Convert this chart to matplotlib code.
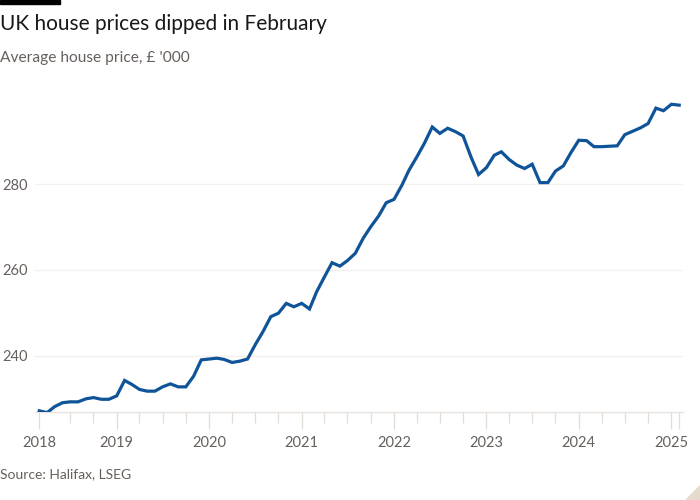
import numpy as np
import pandas as pd
import matplotlib
matplotlib.use("Agg")
import matplotlib.pyplot as plt
import matplotlib.dates as mdates
from matplotlib.patches import Polygon, Rectangle

# Halifax average house price, £'000, monthly Mar 2018 - Feb 2025
start_month = "2018-03"
prices = [
    227.1, 226.7, 228.1, 229.0, 229.2, 229.2, 229.9, 230.2, 229.8, 229.8,
    230.6, 234.2, 233.3, 232.1, 231.7, 231.7, 232.7, 233.4, 232.7, 232.7, 235.2, 239.0,
    239.2, 239.4, 239.1, 238.4, 238.7, 239.2, 242.5, 245.6, 249.1, 249.9, 252.2, 251.4,
    252.2, 250.9, 254.9, 258.4, 261.7, 260.9, 262.2, 263.9, 267.4, 270.1, 272.6, 275.7,
    276.5, 279.8, 283.3, 286.4, 289.6, 293.4, 291.9, 293.1, 292.3, 291.3, 286.4, 282.3,
    283.9, 286.8, 287.6, 285.8, 284.5, 283.7, 284.7, 280.4, 280.4, 283.1, 284.3, 287.4,
    290.3, 290.2, 288.8, 288.8, 288.9, 289.0, 291.6, 292.4, 293.2, 294.2, 297.8, 297.2,
    298.7, 298.5,
]
year_labels = ["2018", "2019", "2020", "2021", "2022", "2023", "2024", "2025"]
y_ticks = [240, 260, 280]

title = "UK house prices dipped in February"
subtitle = "Average house price, £ '000"
source = "Source: Halifax, LSEG"

dates = pd.date_range(start_month, periods=len(prices), freq="MS")

plt.rcParams["font.family"] = ["Lato", "DejaVu Sans"]
grey = "#66605c"
line_col = "#0f5499"

fig = plt.figure(figsize=(7, 5), dpi=100, facecolor="white")
ax = fig.add_axes([35 / 700, 1 - 411.7 / 500, (683 - 35) / 700, (411.7 - 100) / 500])
ax.set_facecolor("white")

ax.plot(dates, prices, color=line_col, lw=2.3, solid_joinstyle="miter", zorder=3)

ax.set_xlim(dates[0] - pd.Timedelta(days=17), dates[-1] + pd.Timedelta(days=15))
ax.set_ylim(226.9, 299.7)

# major ticks: first point labelled 2018, then every January, plus the end
major = [dates[0]] + [pd.Timestamp(f"{y}-01-01") for y in year_labels[1:]] + [dates[-1]]
ax.set_xticks(major)
ax.set_xticklabels(year_labels + [""])
minor = [d for d in pd.date_range("2018-07-01", dates[-1], freq="QS-JAN") if d.month != 1]
ax.set_xticks(minor, minor=True)
ax.tick_params(axis="x", which="major", length=12.5, width=0.9, color="#e3ddd8",
               labelcolor=grey, labelsize=10.5, pad=5)
ax.tick_params(axis="x", which="minor", length=8, width=0.9, color="#e3ddd8")

ax.set_yticks(y_ticks)
ax.tick_params(axis="y", length=0, labelcolor=grey, labelsize=10.5, pad=5)
ax.grid(axis="y", color="#f3efeb", lw=0.9, zorder=0)

for s in ["top", "right", "left"]:
    ax.spines[s].set_visible(False)
ax.spines["bottom"].set_color("#e8e3df")
ax.spines["bottom"].set_linewidth(1)

fig.text(0, 1 - 24 / 500, title, fontsize=15, color="#1a1817", va="center", ha="left")
fig.text(0, 1 - 58 / 500, subtitle, fontsize=11.2, color=grey, va="center", ha="left")
fig.text(0, 1 - 474 / 500, source, fontsize=10, color=grey, va="center", ha="left")

fig.patches.append(Rectangle((0, 1 - 4 / 500), 60 / 700, 4 / 500, transform=fig.transFigure,
                             color="black", zorder=5))
fig.patches.append(Polygon([(1, 0), (1, 14 / 500), (1 - 14 / 700, 0)], closed=True,
                           transform=fig.transFigure, color="#e6d9ce", zorder=5))

fig.savefig("out.png", dpi=100, facecolor="white")
